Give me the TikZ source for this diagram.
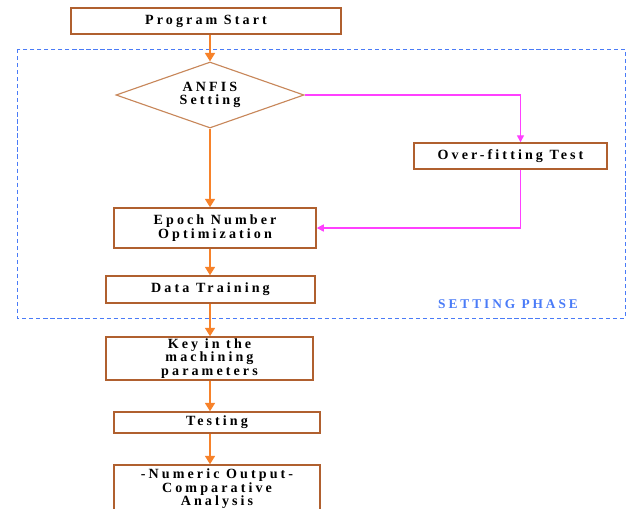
\documentclass[tikz,border=0pt]{standalone}
\usepackage{fontspec}
\setmainfont{Liberation Serif}[LetterSpace=22]
\usetikzlibrary{positioning, shapes.geometric, arrows.meta}
\usepackage{xcolor}
\definecolor{boxbrown}{HTML}{B0602F}
\definecolor{diabrown}{HTML}{C8875A}
\definecolor{flowor}{HTML}{F7822A}
\definecolor{loopmag}{HTML}{FF40FF}
\definecolor{phaseblue}{HTML}{4A7BF7}

\tikzset{
  procbox/.style={draw=boxbrown, line width=1pt, fill=white, align=center,
    font=\fontsize{10}{9.6}\selectfont\bfseries, inner sep=1pt},
  decision/.style={diamond, aspect=3, draw=diabrown, line width=0.8pt, fill=white, align=center,
    font=\fontsize{10}{9.6}\selectfont\bfseries, inner sep=0pt,
    minimum width=4.7cm, minimum height=1.65cm},
  flowarrow/.style={draw=flowor, line width=1.4pt, -{Triangle[length=6pt,width=7pt]}},
  loopline/.style={draw=loopmag, line width=1pt, -{Triangle[length=5pt,width=5pt]}},
  phasebox/.style={draw=phaseblue, line width=0.7pt, dash pattern=on 3pt off 2pt}
}

\begin{document}
\begin{tikzpicture}[x=0.025cm, y=-0.025cm]
    \useasboundingbox (0,0) rectangle (626,508);
    % setting phase frame
    \draw[phasebox] (17,49) rectangle (625,318);
    \node[text=phaseblue, font=\fontsize{9.5}{9.6}\selectfont\bfseries] (phase) at (508,304) {SETTING PHASE};
    % flow
    \node[procbox, minimum width=6.75cm, minimum height=0.65cm] (start) at (206,21) {Program Start};
    \node[decision] (anfis) at (210,95) {ANFIS\\Setting};
    \node[procbox, minimum width=4.825cm, minimum height=0.65cm] (overfit) at (510.5,156) {Over-fitting Test};
    \node[procbox, minimum width=5.05cm, minimum height=1cm] (epoch) at (215,228) {Epoch Number\\Optimization};
    \node[procbox, minimum width=5.225cm, minimum height=0.675cm] (train) at (210.5,289.5) {Data Training};
    \node[procbox, minimum width=5.175cm, minimum height=1.075cm] (key) at (209.5,358.5) {Key in the\\machining\\parameters};
    \node[procbox, minimum width=5.15cm, minimum height=0.525cm] (test) at (217,422.5) {Testing};
    \node[procbox, minimum width=5.15cm, minimum height=1.2cm] (result) at (217,489) {-Numeric Output-\\Comparative\\Analysis};
    % orange connectors
    \draw[flowarrow] (start.south -| anfis.north) -- (anfis.north);
    \draw[flowarrow] (anfis.south) -- (anfis.south |- epoch.north);
    \draw[flowarrow] (anfis.south |- epoch.south) -- (anfis.south |- train.north);
    \draw[flowarrow] (anfis.south |- train.south) -- (anfis.south |- key.north);
    \draw[flowarrow] (anfis.south |- key.south) -- (anfis.south |- test.north);
    \draw[flowarrow] (anfis.south |- test.south) -- (anfis.south |- result.north);
    % magenta loop
    \draw[loopline] (anfis.east) -| ([xshift=0.25cm]overfit.north);
    \draw[loopline] ([xshift=0.25cm]overfit.south) |- (epoch.east);
\end{tikzpicture}
\end{document}
